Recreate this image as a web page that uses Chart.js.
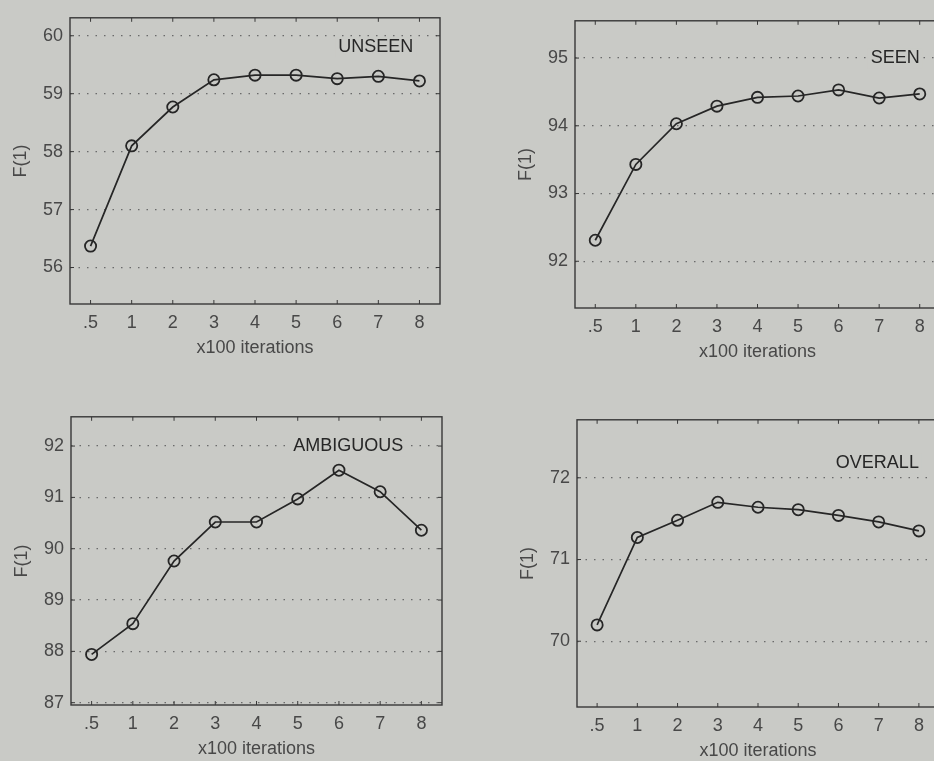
<!DOCTYPE html>
<html>
<head>
<meta charset="utf-8">
<script src="https://cdn.jsdelivr.net/npm/chart.js@4"></script>
<style>
  html, body { margin: 0; padding: 0; width: 934px; height: 761px; overflow: hidden; background: #c9cac6; }
  canvas { position: absolute; }
</style>
</head>
<body>
<canvas id="unseen"></canvas>
<canvas id="seen"></canvas>
<canvas id="ambiguous"></canvas>
<canvas id="overall"></canvas>
<script>
// x100 iterations
const iterLabels = ['.5', '1', '2', '3', '4', '5', '6', '7', '8'];

// F(1) per iteration count
const unseenF1 = [56.37, 58.10, 58.77, 59.24, 59.32, 59.32, 59.26, 59.30, 59.22];
const seenF1 = [92.31, 93.43, 94.03, 94.29, 94.42, 94.44, 94.53, 94.41, 94.47];
const ambiguousF1 = [87.94, 88.54, 89.76, 90.52, 90.52, 90.97, 91.53, 91.11, 90.36];
const overallF1 = [70.20, 71.27, 71.48, 71.70, 71.64, 71.61, 71.54, 71.46, 71.35];

// y tick labels
const unseenTicks = [56, 57, 58, 59, 60];
const seenTicks = [92, 93, 94, 95];
const ambiguousTicks = [87, 88, 89, 90, 91, 92];
const overallTicks = [70, 71, 72];

const FONT = '"Liberation Sans", Arial, Helvetica, sans-serif';
const INK = '#262626';
const TICK_INK = '#484848';
const BG = '#c9cac6';

// frame = plot box on the page; tag sits at (category index, value)
const panels = [
    { id: 'unseen', name: 'UNSEEN', data: unseenF1, ticks: unseenTicks,
      min: 55.37, max: 60.31, frame: { left: 70, top: 14, right: 440, bottom: 304 }, tag: [7.85, 59.8] },
    { id: 'seen', name: 'SEEN', data: seenF1, ticks: seenTicks,
      min: 91.31, max: 95.55, frame: { left: 575, top: 17, right: 940, bottom: 308 }, tag: [8, 95.0] },
    { id: 'ambiguous', name: 'AMBIGUOUS', data: ambiguousF1, ticks: ambiguousTicks,
      min: 86.955, max: 92.57, frame: { left: 71, top: 413, right: 442, bottom: 705 }, tag: [7.56, 92.0] },
    { id: 'overall', name: 'OVERALL', data: overallF1, ticks: overallTicks,
      min: 69.195, max: 72.71, frame: { left: 577, top: 416, right: 939, bottom: 707 }, tag: [8, 72.18] }
];

const AXIS_W = 70;   // room for y labels + title
const AXIS_H = 56;   // room for x labels + title
const PAD_TOP = 14;
const PAD_RIGHT = 20;

// box around the plot with short inward ticks on all four sides, plus the corner tag
const framePlugin = {
    id: 'matFrame',
    afterDatasetsDraw(chart, args, opts) {
        const ctx = chart.ctx;
        const xs = chart.scales.x;
        const ys = chart.scales.y;

        ctx.save();
        ctx.font = '18px ' + FONT;
        ctx.textAlign = 'right';
        ctx.textBaseline = 'middle';
        const tx = xs.getPixelForValue(opts.tag[0]);
        const ty = ys.getPixelForValue(opts.tag[1]);
        const w = ctx.measureText(opts.name).width;
        ctx.fillStyle = BG;
        ctx.fillRect(tx - w - 3, ty - 10, w + 6, 20);
        ctx.fillStyle = INK;
        ctx.fillText(opts.name, tx, ty);
        ctx.restore();
    },
    afterDraw(chart) {
        const ctx = chart.ctx;
        const a = chart.chartArea;
        const xs = chart.scales.x;
        const ys = chart.scales.y;
        ctx.save();
        ctx.strokeStyle = '#383838';
        ctx.lineWidth = 1.4;
        ctx.strokeRect(a.left, a.top, a.right - a.left, a.bottom - a.top);
        ctx.lineWidth = 1;
        ctx.beginPath();
        xs.ticks.forEach((t, i) => {
            const px = xs.getPixelForTick(i);
            ctx.moveTo(px, a.bottom); ctx.lineTo(px, a.bottom - 4);
            ctx.moveTo(px, a.top); ctx.lineTo(px, a.top + 4);
        });
        ys.ticks.forEach((t, i) => {
            const py = ys.getPixelForTick(i);
            ctx.moveTo(a.left, py); ctx.lineTo(a.left + 4, py);
            ctx.moveTo(a.right, py); ctx.lineTo(a.right - 4, py);
        });
        ctx.stroke();
        ctx.restore();
    }
};

function makePanel(p) {
    const canvas = document.getElementById(p.id);
    const f = p.frame;
    const w = f.right - f.left + AXIS_W + PAD_RIGHT;
    const h = f.bottom - f.top + PAD_TOP + AXIS_H;
    canvas.width = w;
    canvas.height = h;
    canvas.style.width = w + 'px';
    canvas.style.height = h + 'px';
    canvas.style.left = (f.left - AXIS_W) + 'px';
    canvas.style.top = (f.top - PAD_TOP) + 'px';

    new Chart(canvas.getContext('2d'), {
        type: 'line',
        data: {
            labels: iterLabels,
            datasets: [{
                data: p.data,
                borderColor: INK,
                borderWidth: 1.7,
                tension: 0,
                pointStyle: 'circle',
                pointRadius: 5.6,
                pointBorderWidth: 1.8,
                pointBorderColor: INK,
                pointBackgroundColor: 'rgba(0,0,0,0)'
            }]
        },
        options: {
            responsive: false,
            animation: false,
            events: [],
            layout: { padding: { top: PAD_TOP, right: PAD_RIGHT, left: 0, bottom: 0 } },
            plugins: {
                legend: { display: false },
                tooltip: { enabled: false },
                matFrame: { name: p.name, tag: p.tag }
            },
            scales: {
                x: {
                    type: 'category',
                    offset: true,
                    grid: { display: false, drawTicks: false },
                    border: { display: false },
                    ticks: { color: TICK_INK, font: { family: FONT, size: 18 }, padding: 8, maxRotation: 0, autoSkip: false },
                    title: { display: true, text: 'x100 iterations', color: TICK_INK,
                             font: { family: FONT, size: 18 }, padding: { top: 2, bottom: 1 } },
                    afterFit(scale) { scale.height = AXIS_H; }
                },
                y: {
                    min: p.min,
                    max: p.max,
                    grid: { color: '#6a6a6a', lineWidth: 1.2, drawTicks: false },
                    border: { display: false, dash: [1.5, 7] },
                    ticks: { color: TICK_INK, font: { family: FONT, size: 18 }, padding: 7 },
                    title: { display: true, text: 'F(1)', color: TICK_INK,
                             font: { family: FONT, size: 18 }, padding: { top: 10, bottom: 10 } },
                    afterBuildTicks(scale) { scale.ticks = p.ticks.map(v => ({ value: v })); },
                    afterFit(scale) { scale.width = AXIS_W; }
                }
            }
        },
        plugins: [framePlugin]
    });
}

panels.forEach(makePanel);
</script>
</body>
</html>
